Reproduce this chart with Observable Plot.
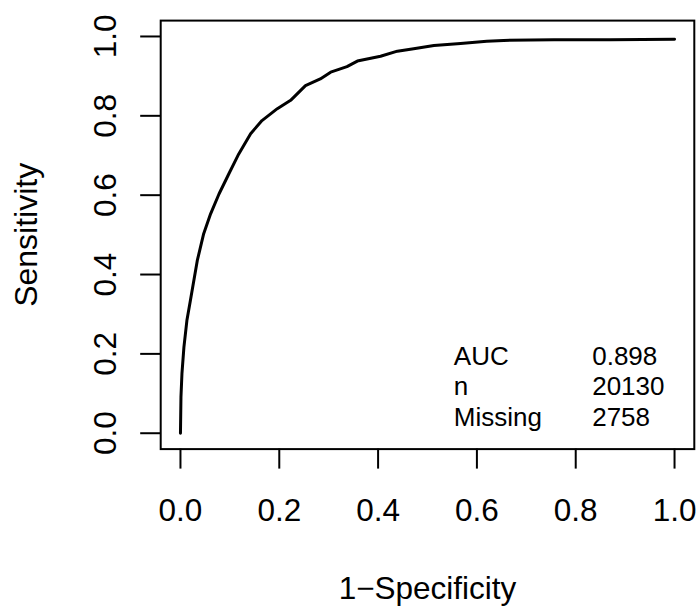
<!DOCTYPE html>
<html>
<head>
<meta charset="utf-8">
<script src="https://cdn.jsdelivr.net/npm/d3@7"></script>
<script src="https://cdn.jsdelivr.net/npm/@observablehq/plot@0.6"></script>
<style>
  html, body { margin: 0; padding: 0; background: white; }
  svg { display: block; }
</style>
</head>
<body>
<div id="chart"></div>
<script>
// ROC curve
const fpr = [0, 0.001, 0.003, 0.007, 0.013, 0.020, 0.034, 0.047, 0.061, 0.078, 0.098, 0.118, 0.142, 0.165, 0.196, 0.223, 0.253, 0.283, 0.304, 0.337, 0.358, 0.405, 0.439, 0.472, 0.513, 0.567, 0.620, 0.654, 0.756, 0.870, 1.0];
const tpr = [0, 0.091, 0.150, 0.217, 0.284, 0.334, 0.435, 0.503, 0.553, 0.603, 0.654, 0.704, 0.755, 0.788, 0.818, 0.839, 0.876, 0.893, 0.910, 0.924, 0.938, 0.950, 0.963, 0.969, 0.977, 0.982, 0.988, 0.990, 0.992, 0.992, 0.993];

const xTicks = [0, 0.2, 0.4, 0.6, 0.8, 1.0];
const yTicks = [0, 0.2, 0.4, 0.6, 0.8, 1.0];

const legendLabels = ["AUC", "n", "Missing"];
const legendValues = ["0.898", "20130", "2758"];

const xTitle = "1\u2212Specificity";
const yTitle = "Sensitivity";

const rows = fpr.map((x, i) => ({x, y: tpr[i]}));
const fmt = d3.format(".1f");

const chart = Plot.plot({
  width: 697,
  height: 606,
  marginLeft: 160.2,
  marginRight: 3.2,
  marginTop: 20.1,
  marginBottom: 157.4,
  style: {fontFamily: "'Liberation Sans', Arial, Helvetica, sans-serif", background: "white", color: "black"},
  x: {domain: [-0.04, 1.04]},
  y: {domain: [-0.04, 1.04]},
  marks: [
    Plot.frame({strokeWidth: 2}),
    Plot.axisX({ticks: xTicks, tickFormat: fmt, tickSize: 20, tickPadding: 29.7, fontSize: 31.5, strokeWidth: 2, label: null}),
    Plot.axisY({ticks: yTicks, tickFormat: fmt, tickSize: 20, tickPadding: 25, tickRotate: -90, fontSize: 31.5, strokeWidth: 2, label: null}),
    Plot.line(rows, {x: "x", y: "y", strokeWidth: 3}),
    Plot.text([xTitle], {text: d => d, frameAnchor: "bottom", lineAnchor: "bottom", fontSize: 31.5, dy: 149.5}),
    Plot.text([yTitle], {text: d => d, frameAnchor: "left", rotate: -90, textAnchor: "middle", lineAnchor: "bottom", fontSize: 32, dx: -123.3}),
    Plot.text([legendLabels.join("\n")], {text: d => d, frameAnchor: "bottom-left", textAnchor: "start", lineAnchor: "bottom", fontSize: 26, lineHeight: 30.3 / 26, dx: 293.1, dy: -23.6}),
    Plot.text([legendValues.join("\n")], {text: d => d, frameAnchor: "bottom-left", textAnchor: "start", lineAnchor: "bottom", fontSize: 26, lineHeight: 30.3 / 26, dx: 431.5, dy: -23.6})
  ]
});

document.getElementById("chart").appendChild(chart);
</script>
</body>
</html>
